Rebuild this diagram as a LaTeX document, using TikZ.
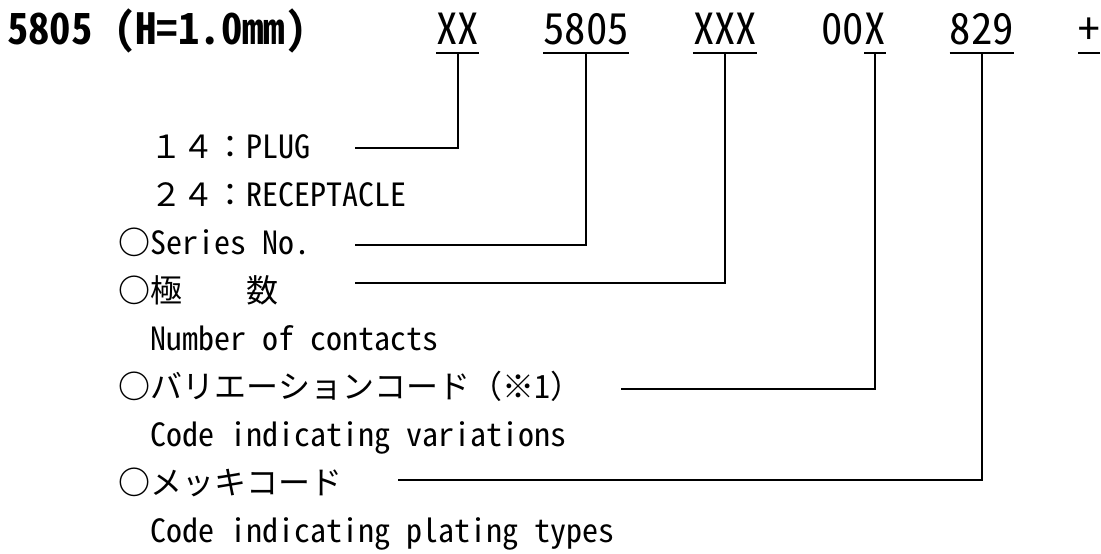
\documentclass[tikz,border=0pt]{standalone}
\usepackage{fontspec}
\newfontfamily\jpmono{Noto Sans Mono CJK JP}
\newcommand{\circmark}{{\bfseries ○}}
\begin{document}
\begin{tikzpicture}[x=1pt,y=-1pt,
  lbl/.style={anchor=base west,inner sep=0pt,font=\jpmono\fontsize{32}{38}\selectfont},
  code/.style={anchor=base west,inner sep=0pt,font=\jpmono\fontsize{42.8}{50}\selectfont},
  ttl/.style={anchor=base west,inner sep=0pt,font=\jpmono\bfseries\fontsize{42.8}{50}\selectfont},
  conn/.style={line width=1.8pt},
  uline/.style={line width=2.5pt}]
\useasboundingbox[fill=white] (0,0) rectangle (1101,554);

% title
\node[ttl] (title) at (7,45) {5805 (H=1.0mm)};

% code row
\node[code] (cXX)   at (436,45)    {XX};
\node[code] (c5805) at (543,45)    {5805};
\node[code] (cXXX)  at (692.8,45)  {XXX};
\node[code] (c00)   at (821.2,45)  {00};
\node[code] (cX)    at (864,45)    {X};
\node[code] (c829)  at (949.6,45)  {829};
\node[code] (cplus) at (1078,45)   {+};

\foreach \n in {cXX,c5805,cXXX,cX,c829,cplus}
  \draw[uline] ([yshift=-8pt]\n.base west) -- ([yshift=-8pt]\n.base east);

% labels
\node[lbl] (r0) at (150,158) {１４：PLUG};
\node[lbl] (r1) at (150,206) {２４：RECEPTACLE};
\node[lbl] (r2) at (118,254) {\circmark Series No.};
\node[lbl] (r3) at (118,302) {\circmark 極　　数};
\node[lbl] (r4) at (150,350) {Number of contacts};
\node[lbl] (r5) at (118,398) {\circmark バリエーションコード（※1）};
\node[lbl] (r6) at (150,446) {Code indicating variations};
\node[lbl] (r7) at (118,494) {\circmark メッキコード};
\node[lbl] (r8) at (150,542) {Code indicating plating types};

% connector ends
\coordinate (ePlug)   at (355,148);
\coordinate (eSeries) at (355,245);
\coordinate (ePoles)  at (355,283);
\coordinate (eVar)    at (621,389);
\coordinate (ePlate)  at (398,480);

\draw[conn] ([yshift=-8pt]cXX.base)   |- (ePlug);
\draw[conn] ([yshift=-8pt]c5805.base) |- (eSeries);
\draw[conn] ([yshift=-8pt]cXXX.base)  |- (ePoles);
\draw[conn] ([yshift=-8pt]cX.base)    |- (eVar);
\draw[conn] ([yshift=-8pt]c829.base)  |- (ePlate);
\end{tikzpicture}
\end{document}
